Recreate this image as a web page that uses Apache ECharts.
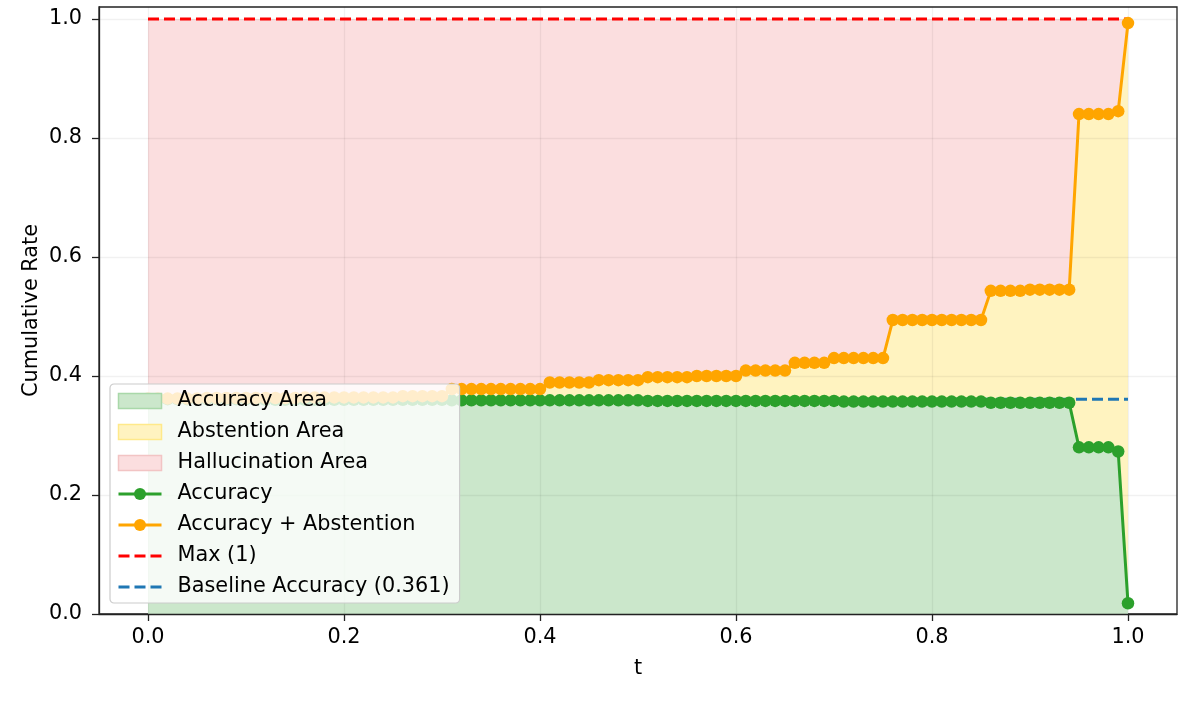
<!DOCTYPE html>
<html>
<head>
<meta charset="utf-8">
<script src="https://cdn.jsdelivr.net/npm/echarts@6.0.0/dist/echarts.min.js"></script>
<style>
  html, body { margin: 0; padding: 0; background: #fff; }
  #chart { width: 1200px; height: 701px; }
</style>
</head>
<body>
<div id="chart"></div>
<script>
// thresholds t
const tValues = [
  0.00, 0.01, 0.02, 0.03, 0.04, 0.05, 0.06, 0.07, 0.08, 0.09,
  0.10, 0.11, 0.12, 0.13, 0.14, 0.15, 0.16, 0.17, 0.18, 0.19,
  0.20, 0.21, 0.22, 0.23, 0.24, 0.25, 0.26, 0.27, 0.28, 0.29,
  0.30, 0.31, 0.32, 0.33, 0.34, 0.35, 0.36, 0.37, 0.38, 0.39,
  0.40, 0.41, 0.42, 0.43, 0.44, 0.45, 0.46, 0.47, 0.48, 0.49,
  0.50, 0.51, 0.52, 0.53, 0.54, 0.55, 0.56, 0.57, 0.58, 0.59,
  0.60, 0.61, 0.62, 0.63, 0.64, 0.65, 0.66, 0.67, 0.68, 0.69,
  0.70, 0.71, 0.72, 0.73, 0.74, 0.75, 0.76, 0.77, 0.78, 0.79,
  0.80, 0.81, 0.82, 0.83, 0.84, 0.85, 0.86, 0.87, 0.88, 0.89,
  0.90, 0.91, 0.92, 0.93, 0.94, 0.95, 0.96, 0.97, 0.98, 0.99,
  1.00
]

// accuracy per t
const accuracy = [
  0.361, 0.361, 0.361, 0.361, 0.361, 0.361, 0.361, 0.361, 0.361, 0.361,
  0.361, 0.360, 0.360, 0.360, 0.360, 0.360, 0.360, 0.360, 0.360, 0.360,
  0.360, 0.360, 0.360, 0.360, 0.360, 0.360, 0.360, 0.360, 0.360, 0.360,
  0.360, 0.359, 0.359, 0.359, 0.359, 0.359, 0.359, 0.359, 0.359, 0.359,
  0.359, 0.359, 0.359, 0.359, 0.359, 0.359, 0.359, 0.359, 0.359, 0.359,
  0.359, 0.358, 0.358, 0.358, 0.358, 0.358, 0.358, 0.358, 0.358, 0.358,
  0.358, 0.358, 0.358, 0.358, 0.358, 0.358, 0.358, 0.358, 0.358, 0.358,
  0.358, 0.357, 0.357, 0.357, 0.357, 0.357, 0.357, 0.357, 0.357, 0.357,
  0.357, 0.357, 0.357, 0.357, 0.357, 0.357, 0.355, 0.355, 0.355, 0.355,
  0.355, 0.355, 0.355, 0.355, 0.355, 0.280, 0.280, 0.280, 0.280, 0.273,
  0.018
]

// accuracy + abstention per t
const accAbstention = [
  0.362, 0.362, 0.362, 0.362, 0.362, 0.362, 0.363, 0.363, 0.363, 0.363,
  0.363, 0.363, 0.363, 0.363, 0.363, 0.363, 0.364, 0.364, 0.364, 0.364,
  0.364, 0.364, 0.364, 0.364, 0.364, 0.364, 0.366, 0.366, 0.366, 0.366,
  0.366, 0.378, 0.378, 0.378, 0.378, 0.378, 0.378, 0.378, 0.378, 0.378,
  0.378, 0.389, 0.389, 0.389, 0.389, 0.389, 0.393, 0.393, 0.393, 0.393,
  0.393, 0.398, 0.398, 0.398, 0.398, 0.398, 0.400, 0.400, 0.400, 0.400,
  0.400, 0.409, 0.409, 0.409, 0.409, 0.409, 0.422, 0.422, 0.422, 0.422,
  0.430, 0.430, 0.430, 0.430, 0.430, 0.430, 0.494, 0.494, 0.494, 0.494,
  0.494, 0.494, 0.494, 0.494, 0.494, 0.494, 0.543, 0.543, 0.543, 0.543,
  0.545, 0.545, 0.545, 0.545, 0.545, 0.840, 0.840, 0.840, 0.840, 0.845,
  0.993
]

const maxValue = 1
const baselineAcc = 0.361
const tickValues = [0, 0.2, 0.4, 0.6, 0.8, 1.0]

const FONT = 'DejaVu Sans'
const FS = 20.8
const pairs = ys => tValues.map((t, i) => [t, ys[i]])
const tEnds = [tValues[0], tValues[tValues.length - 1]]

// fill colours (matplotlib alpha fills flattened on white)
const GREEN_FILL = '#cbe7cb'
const YELLOW_FILL = '#fff3c0'
const PINK_FILL = '#fbdedf'

const chart = echarts.init(document.getElementById('chart'))

// layered opaque bands: pink to max, yellow to acc+abst, green to acc
function band(name, ys, color) {
  return {
    name: name,
    type: 'line',
    data: pairs(ys),
    symbol: 'none',
    lineStyle: { width: 0 },
    areaStyle: { color: color, opacity: 1, origin: 'start' },
    itemStyle: { color: color },
    silent: true,
    z: 1
  }
}

const axisCommon = {
  z: 1.5,
  nameMoveOverlap: false,
  axisLine: { show: true, onZero: false, lineStyle: { color: '#222', width: 1.3 } },
  axisTick: { show: true, length: 7, customValues: tickValues, lineStyle: { color: '#222', width: 1.3 } },
  splitLine: { show: true, lineStyle: { color: 'rgba(0,0,0,0.055)', width: 1.3 } }
}

chart.setOption({
  animation: false,
  textStyle: { fontFamily: FONT },
  grid: {
    left: 99, right: 23, top: 7, bottom: 87,
    show: true, borderColor: '#222', borderWidth: 1.3
  },
  legend: {
    orient: 'vertical',
    left: 110,
    top: 384,
    padding: [6, 10, 5, 7],
    itemWidth: 43,
    itemHeight: 15,
    itemGap: 9,
    backgroundColor: 'rgba(255,255,255,0.8)',
    borderColor: '#cccccc',
    borderWidth: 1.2,
    borderRadius: 4,
    textStyle: { fontFamily: FONT, fontSize: FS, color: '#000', lineHeight: 22, padding: [0, 0, 0, 11] },
    data: [
      { name: 'Accuracy Area', icon: 'rect', itemStyle: { color: GREEN_FILL, borderColor: '#a9d8a9', borderWidth: 1.5 } },
      { name: 'Abstention Area', icon: 'rect', itemStyle: { color: YELLOW_FILL, borderColor: '#ffe98a', borderWidth: 1.5 } },
      { name: 'Hallucination Area', icon: 'rect', itemStyle: { color: PINK_FILL, borderColor: '#f2c4c4', borderWidth: 1.5 } },
      { name: 'Accuracy', lineStyle: { width: 3 } },
      { name: 'Accuracy + Abstention', lineStyle: { width: 3 } },
      { name: 'Max (1)', itemStyle: { opacity: 0 }, lineStyle: { width: 3 } },
      { name: 'Baseline Accuracy (0.361)', itemStyle: { opacity: 0 }, lineStyle: { width: 3 } }
    ]
  },
  xAxis: Object.assign({}, axisCommon, {
    type: 'value',
    min: -0.05,
    max: 1.05,
    name: 't',
    nameLocation: 'middle',
    nameGap: 44,
    nameTextStyle: { fontFamily: FONT, fontSize: FS, color: '#000' },
    axisLabel: {
      customValues: tickValues,
      formatter: v => v.toFixed(1),
      fontFamily: FONT, fontSize: FS, color: '#000', margin: 13
    }
  }),
  yAxis: Object.assign({}, axisCommon, {
    type: 'value',
    min: 0,
    max: 1.02,
    name: 'Cumulative Rate',
    nameLocation: 'middle',
    nameGap: 57,
    nameTextStyle: { fontFamily: FONT, fontSize: FS, color: '#000' },
    axisLabel: {
      customValues: tickValues,
      formatter: v => v.toFixed(1),
      fontFamily: FONT, fontSize: FS, color: '#000', margin: 17
    }
  }),
  series: [
    band('Hallucination Area', tValues.map(() => maxValue), PINK_FILL),
    band('Abstention Area', accAbstention, YELLOW_FILL),
    band('Accuracy Area', accuracy, GREEN_FILL),
    {
      name: 'Accuracy',
      type: 'line',
      data: pairs(accuracy),
      symbol: 'circle',
      symbolSize: 12.5,
      showAllSymbol: true,
      lineStyle: { color: '#2ca02c', width: 3 },
      itemStyle: { color: '#2ca02c' },
      z: 3
    },
    {
      name: 'Accuracy + Abstention',
      type: 'line',
      data: pairs(accAbstention),
      symbol: 'circle',
      symbolSize: 12.5,
      showAllSymbol: true,
      lineStyle: { color: '#ffa500', width: 3 },
      itemStyle: { color: '#ffa500' },
      z: 3
    },
    {
      name: 'Max (1)',
      type: 'line',
      data: tEnds.map(t => [t, maxValue]),
      symbol: 'none',
      lineStyle: { color: '#ff0000', width: 3, type: [11, 5] },
      itemStyle: { color: '#ff0000' },
      z: 3
    },
    {
      name: 'Baseline Accuracy (0.361)',
      type: 'line',
      data: tEnds.map(t => [t, baselineAcc]),
      symbol: 'none',
      lineStyle: { color: '#1f77b4', width: 3, type: [11, 5] },
      itemStyle: { color: '#1f77b4' },
      z: 3
    }
  ]
})
</script>
</body>
</html>
